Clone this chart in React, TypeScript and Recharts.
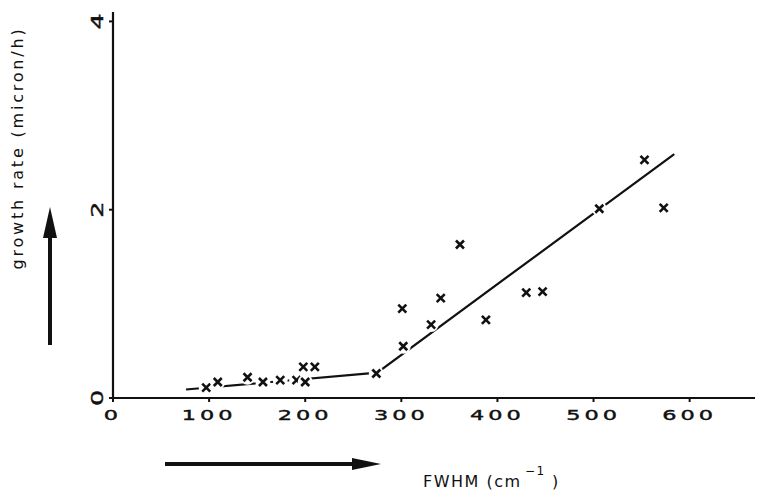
import { ComposedChart, Line, Scatter, XAxis, YAxis } from 'recharts';

// measured points (FWHM in cm^-1, growth rate in micron/h)
const fwhm = [97, 109, 140, 156, 174, 191, 200, 198, 210, 274, 302, 301, 331, 341, 361, 388, 430, 447, 506, 553, 573];
const growth = [0.11, 0.17, 0.22, 0.17, 0.19, 0.19, 0.17, 0.33, 0.33, 0.26, 0.55, 0.95, 0.78, 1.06, 1.63, 0.83, 1.12, 1.13, 2.01, 2.53, 2.02];

// fitted line, two straight pieces
const fitX = [76, 275, 584];
const fitY = [0.09, 0.27, 2.59];

const xTicks = [0, 100, 200, 300, 400, 500, 600];
const yTicks = [0, 2, 4];

const points = fwhm.map((x, i) => ({ x, y: growth[i] }));
const fit = fitX.map((x, i) => ({ x, y: fitY[i] }));

const FONT = '"DejaVu Sans", sans-serif';

function Cross(props: any) {
  const { cx, cy } = props;
  if (cx == null || cy == null) return null;
  const s = 4;
  return (
    <g>
      <circle cx={cx} cy={cy} r={7.5} fill="#fff" />
      <path
        d={`M${cx - s},${cy - s}L${cx + s},${cy + s}M${cx + s},${cy - s}L${cx - s},${cy + s}`}
        stroke="#111"
        strokeWidth={2.6}
      />
    </g>
  );
}

function XTick(props: any) {
  const { x, y, payload } = props;
  return (
    <text
      transform={`translate(${x},${y + 16}) scale(1.6,1)`}
      textAnchor="middle"
      fontFamily={FONT}
      fontSize={14}
      letterSpacing={2.5}
      fill="#111"
      stroke="#111"
      strokeWidth={0.4}
    >
      {payload.value}
    </text>
  );
}

function YTick(props: any) {
  const { x, y, payload } = props;
  return (
    <text
      transform={`translate(${x - 4},${y}) rotate(-90) scale(1.7,1)`}
      textAnchor="middle"
      fontFamily={FONT}
      fontSize={15}
      fill="#111"
      stroke="#111"
      strokeWidth={0.4}
    >
      {payload.value}
    </text>
  );
}

export default function App() {
  return (
    <div style={{ position: 'absolute', left: 0, top: 0, width: 757, height: 492, background: '#fff' }}>
      <ComposedChart width={757} height={492} margin={{ top: 12, right: 2, bottom: 64, left: 73 }}>
        <XAxis
          type="number"
          dataKey="x"
          domain={[0, 668]}
          ticks={xTicks}
          allowDataOverflow
          height={30}
          tickSize={4}
          axisLine={{ stroke: '#111', strokeWidth: 2.2 }}
          tickLine={{ stroke: '#111', strokeWidth: 2 }}
          tick={<XTick />}
        />
        <YAxis
          type="number"
          domain={[0, 4.1]}
          ticks={yTicks}
          allowDataOverflow
          width={40}
          tickSize={4}
          axisLine={{ stroke: '#111', strokeWidth: 2.2 }}
          tickLine={{ stroke: '#111', strokeWidth: 2 }}
          tick={<YTick />}
        />
        <Line
          data={fit}
          dataKey="y"
          type="linear"
          stroke="#111"
          strokeWidth={2.2}
          dot={false}
          activeDot={false}
          isAnimationActive={false}
        />
        <Scatter data={points} dataKey="y" shape={<Cross />} isAnimationActive={false} />
      </ComposedChart>
      <svg
        width={757}
        height={492}
        style={{ position: 'absolute', left: 0, top: 0, pointerEvents: 'none' }}
      >
        <text
          transform="translate(23,148) rotate(-90)"
          textAnchor="middle"
          fontFamily={FONT}
          fontSize={16}
          letterSpacing={2.8}
          fill="#111"
        >
          growth rate (micron/h)
        </text>
        <line x1={50} y1={345} x2={50} y2={230} stroke="#111" strokeWidth={4} />
        <polygon points="50,207 43,238 57,238" fill="#111" />
        <line x1={165} y1={464} x2={358} y2={464} stroke="#111" strokeWidth={4} />
        <polygon points="381,464 352,458 352,470" fill="#111" />
        <text fontFamily={FONT} fontSize={16} fill="#111" letterSpacing={1.5}>
          <tspan x={423} y={487}>FWHM (cm</tspan>
          <tspan x={525} y={475} fontSize={12}>−1</tspan>
          <tspan x={552} y={487}>)</tspan>
        </text>
      </svg>
    </div>
  );
}
